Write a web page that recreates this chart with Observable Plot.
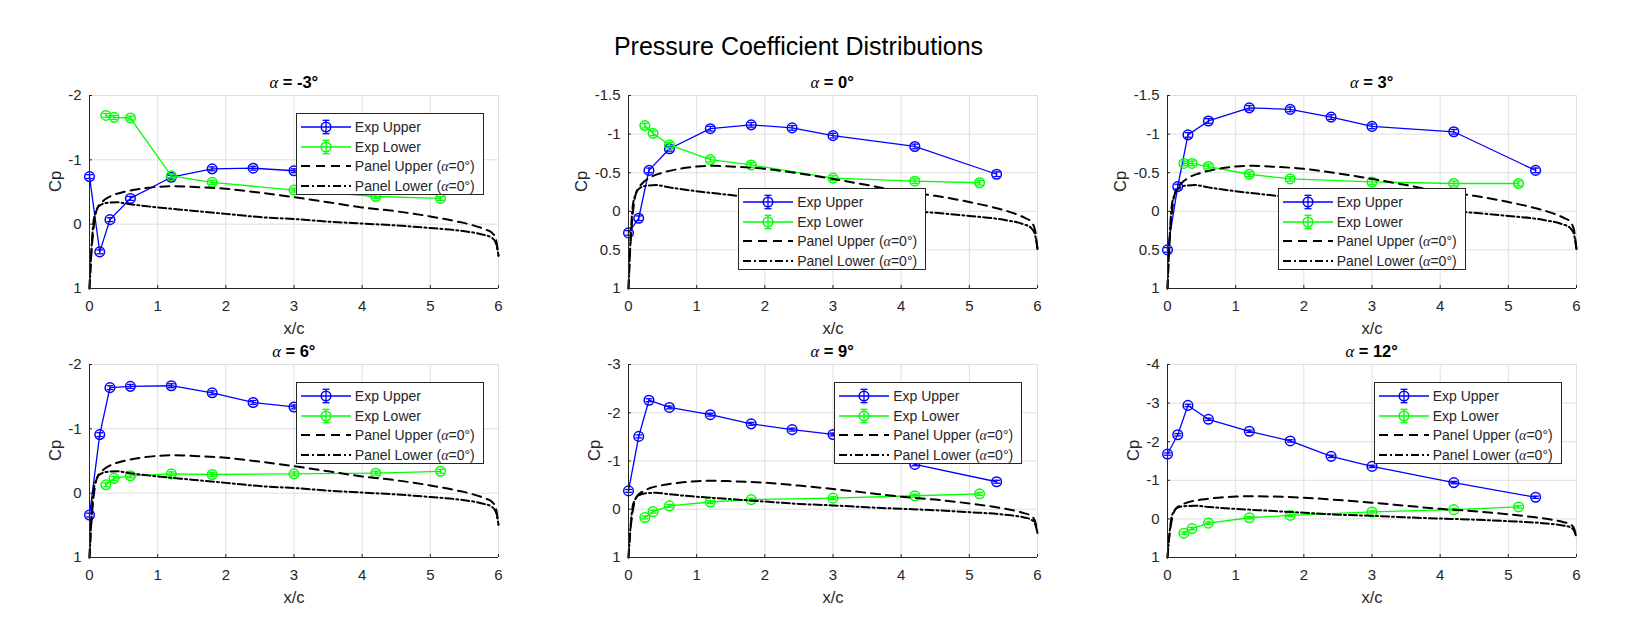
<!DOCTYPE html>
<html>
<head>
<meta charset="utf-8">
<script src="https://cdn.jsdelivr.net/npm/d3@7"></script>
<script src="https://cdn.jsdelivr.net/npm/@observablehq/plot@0.6"></script>
<style>
  body { margin: 0; background: #fff; }
  #fig { position: relative; width: 1635px; height: 634px; overflow: hidden;
         font-family: "Liberation Sans", Arial, Helvetica, sans-serif; color: #262626; background: #fff; }
  .abs { position: absolute; }
  .gt { font-family: "Liberation Serif", "Times New Roman", serif; font-style: italic; font-weight: normal; }
  .maintitle { font-size: 25px; line-height: 30px; color: #000; text-align: center; white-space: nowrap; }
  .subtitle { font-size: 16.5px; line-height: 18px; font-weight: bold; color: #000; text-align: center; white-space: nowrap; }
  .legend { position: absolute; background: #fff; border: 1px solid #262626; box-sizing: border-box; }
  .legend .row { position: absolute; left: 0; height: 20px; line-height: 20px; font-size: 14px; white-space: nowrap; color: #262626; }
  .legend svg { position: absolute; left: 0; top: 0; }
  .legend .lab { position: absolute; left: 58px; top: 0; }
</style>
</head>
<body>
<div id="fig"></div>
<script>
// ---------------- data ----------------
const figTitle = "Pressure Coefficient Distributions";
const alphas = [-3, 0, 3, 6, 9, 12];

// experimental tap locations
const xUpper = [0, 0.15, 0.3, 0.6, 1.2, 1.8, 2.4, 3.0, 4.2, 5.4];
const xLower = [0.24, 0.36, 0.6, 1.2, 1.8, 3.0, 4.2, 5.15];

// experimental Cp, upper surface
const cpUpperM3 = [-0.74, 0.43, -0.07, -0.40, -0.73, -0.86, -0.87, -0.83, -0.76, -0.60];
const cpUpper0  = [0.28, 0.09, -0.53, -0.81, -1.07, -1.12, -1.08, -0.98, -0.84, -0.48];
const cpUpper3  = [0.50, -0.32, -0.99, -1.17, -1.34, -1.32, -1.22, -1.10, -1.03, -0.53];
const cpUpper6  = [0.34, -0.91, -1.64, -1.66, -1.67, -1.56, -1.41, -1.34, -1.15, -0.75];
const cpUpper9  = [-0.38, -1.51, -2.26, -2.11, -1.96, -1.77, -1.65, -1.55, -0.93, -0.57];
const cpUpper12 = [-1.68, -2.18, -2.94, -2.58, -2.27, -2.02, -1.62, -1.36, -0.94, -0.56];

// experimental Cp, lower surface
const cpLowerM3 = [-1.69, -1.66, -1.65, -0.75, -0.65, -0.53, -0.43, -0.40];
const cpLower0  = [-1.11, -1.01, -0.86, -0.67, -0.60, -0.43, -0.39, -0.37];
const cpLower3  = [-0.62, -0.62, -0.58, -0.48, -0.42, -0.38, -0.36, -0.36];
const cpLower6  = [-0.13, -0.23, -0.27, -0.30, -0.29, -0.30, -0.31, -0.34];
const cpLower9  = [0.17, 0.05, -0.07, -0.15, -0.20, -0.23, -0.28, -0.32];
const cpLower12 = [0.37, 0.25, 0.11, -0.03, -0.09, -0.18, -0.24, -0.31];

// measurement uncertainty (error bar half-height)
const cpErr = 0.03;

// panel-method solution at alpha = 0 deg
const panelUpperX  = [0, 0.02, 0.05, 0.08, 0.12, 0.2, 0.3, 0.5, 0.75, 1.0, 1.25, 1.5, 2.0, 2.5, 3.0, 3.5, 4.0, 4.5, 5.0, 5.4, 5.6, 5.8, 5.9, 5.96, 6.0];
const panelUpperCp = [1.0, 0.57, 0.16, -0.10, -0.26, -0.36, -0.43, -0.50, -0.55, -0.58, -0.59, -0.58, -0.55, -0.49, -0.42, -0.34, -0.26, -0.20, -0.12, -0.04, 0.01, 0.08, 0.13, 0.23, 0.49];
const panelLowerX  = [0, 0.03, 0.06, 0.1, 0.15, 0.25, 0.4, 0.6, 1.0, 1.5, 2.0, 2.5, 3.0, 3.5, 4.0, 4.5, 5.0, 5.5, 5.8, 5.9, 5.96, 6.0];
const panelLowerCp = [1.0, 0.36, -0.05, -0.21, -0.29, -0.33, -0.34, -0.31, -0.26, -0.21, -0.16, -0.11, -0.08, -0.04, -0.01, 0.02, 0.06, 0.11, 0.17, 0.21, 0.29, 0.49];

// axes
const xTicks = [0, 1, 2, 3, 4, 5, 6];
const yTopValues = [-2, -1.5, -1.5, -2, -3, -4];
const yTicksA = [-2, -1, 0, 1];
const yTicksB = [-1.5, -1, -0.5, 0, 0.5, 1];
const yTicksC = [-3, -2, -1, 0, 1];
const yTicksD = [-4, -3, -2, -1, 0, 1];
const yTickSets = [yTicksA, yTicksB, yTicksB, yTicksA, yTicksC, yTicksD];

// legend labels
const legendLabels = ["Exp Upper", "Exp Lower", "Panel Upper (α=0°)", "Panel Lower (α=0°)"];

// ---------------- layout / style ----------------
const colX = [89.3, 627.7, 1167.2];
const rowY = [95, 364];
const frameW = 409, frameH = 193;
const mL = 75, mR = 20, mT = 30, mB = 55;
const blue = "#0000ff", green = "#00ff00";
const dashUpper = "9,6", dashLower = "8,3,2,3";
// legend placement: "ne" = inside top-right, otherwise offset from frame top-left
const legendPlace = ["ne", {dx: 110.5, dy: 93}, {dx: 110.5, dy: 93}, "ne", "ne", "ne"];
const legendW = 188, legendH = 82;

const cpUpperSets = [cpUpperM3, cpUpper0, cpUpper3, cpUpper6, cpUpper9, cpUpper12];
const cpLowerSets = [cpLowerM3, cpLower0, cpLower3, cpLower6, cpLower9, cpLower12];

const panelUpper = panelUpperX.map((x, i) => ({x, cp: panelUpperCp[i]}));
const panelLower = panelLowerX.map((x, i) => ({x, cp: panelLowerCp[i]}));

const capSymbol = {
  draw(ctx, size) { const r = Math.sqrt(size / Math.PI); ctx.moveTo(-r, 0); ctx.lineTo(r, 0); }
};

const fig = document.getElementById("fig");

// main title
const mt = document.createElement("div");
mt.className = "abs maintitle";
mt.style.left = "598.5px"; mt.style.width = "400px"; mt.style.top = "31px";
mt.textContent = figTitle;
fig.appendChild(mt);

function withAlpha(s) {
  return s.replace("α", '<span class="gt">α</span>');
}

function errorMarks(data, color) {
  return [
    Plot.line(data, {x: "x", y: "cp", stroke: color, strokeWidth: 1.3}),
    Plot.ruleX(data, {x: "x", y1: d => d.cp - cpErr, y2: d => d.cp + cpErr, stroke: color, strokeWidth: 1.3}),
    Plot.dot(data, {x: "x", y: d => d.cp - cpErr, symbol: capSymbol, r: 3.4, stroke: color, fill: "none", strokeWidth: 1.3}),
    Plot.dot(data, {x: "x", y: d => d.cp + cpErr, symbol: capSymbol, r: 3.4, stroke: color, fill: "none", strokeWidth: 1.3}),
    Plot.dot(data, {x: "x", y: "cp", r: 4.8, stroke: color, fill: "none", strokeWidth: 1.5})
  ];
}

alphas.forEach((alpha, i) => {
  const col = i % 3, row = Math.floor(i / 3);
  const x0 = colX[col], y0 = rowY[row];
  const yTicks = yTickSets[i];
  const yTop = yTopValues[i];
  const up = xUpper.map((x, j) => ({x, cp: cpUpperSets[i][j]}));
  const lo = xLower.map((x, j) => ({x, cp: cpLowerSets[i][j]}));
  const cpOffset = yTicks.some(t => !Number.isInteger(t)) ? 47 : 34;

  const svg = Plot.plot({
    width: mL + frameW + mR,
    height: mT + frameH + mB,
    marginLeft: mL, marginRight: mR, marginTop: mT, marginBottom: mB,
    style: {fontFamily: '"Liberation Sans", Arial, Helvetica, sans-serif', fontSize: "15px", color: "#262626", background: "transparent", overflow: "visible"},
    x: {domain: [0, 6]},
    y: {domain: [1, yTop]},
    marks: [
      Plot.gridX(xTicks, {stroke: "#dfdfdf", strokeOpacity: 1}),
      Plot.gridY(yTicks, {stroke: "#dfdfdf", strokeOpacity: 1}),
      ...errorMarks(up, blue),
      ...errorMarks(lo, green),
      Plot.line(panelUpper, {x: "x", y: "cp", stroke: "#000", strokeWidth: 2, strokeDasharray: dashUpper, curve: "monotone-x"}),
      Plot.line(panelLower, {x: "x", y: "cp", stroke: "#000", strokeWidth: 2, strokeDasharray: dashLower, curve: "monotone-x"}),
      Plot.ruleX([0], {stroke: "#262626", strokeWidth: 1}),
      Plot.ruleY([1], {stroke: "#262626", strokeWidth: 1}),
      Plot.axisX(xTicks, {tickFormat: d => String(d), tickSize: -3, tickPadding: 15, label: null, fontSize: 15}),
      Plot.axisY(yTicks, {tickFormat: d => String(d), tickSize: -3, tickPadding: 11, label: null, fontSize: 15}),
      Plot.text(["x/c"], {frameAnchor: "bottom", dy: 40, fontSize: 16.5, fill: "#262626", lineAnchor: "middle"}),
      Plot.text(["Cp"], {frameAnchor: "left", dx: -cpOffset, rotate: -90, fontSize: 16.5, fill: "#262626", lineAnchor: "middle"})
    ]
  });
  const wrap = document.createElement("div");
  wrap.className = "abs";
  wrap.style.left = (x0 - mL) + "px";
  wrap.style.top = (y0 - mT) + "px";
  wrap.appendChild(svg);
  fig.appendChild(wrap);

  // subplot title
  const st = document.createElement("div");
  st.className = "abs subtitle";
  st.style.left = x0 + "px"; st.style.width = frameW + "px";
  st.style.top = (y0 - 22) + "px";
  st.innerHTML = withAlpha(`α = ${alpha}°`);
  fig.appendChild(st);

  // legend
  const place = legendPlace[i];
  const lx = place === "ne" ? x0 + frameW - 14.5 - legendW : x0 + place.dx;
  const ly = place === "ne" ? y0 + 18 : y0 + place.dy;
  const lg = document.createElement("div");
  lg.className = "legend";
  lg.style.left = lx + "px"; lg.style.top = ly + "px";
  lg.style.width = legendW + "px"; lg.style.height = legendH + "px";
  legendLabels.forEach((lab, k) => {
    const r = document.createElement("div");
    r.className = "row";
    r.style.top = (13 + k * 19.7 - 10) + "px";
    r.style.width = (legendW - 2) + "px";
    const s = d3.create("svg").attr("width", 56).attr("height", 20);
    if (k < 2) {
      const c = k === 0 ? blue : green;
      s.append("line").attr("x1", 4).attr("x2", 54).attr("y1", 10).attr("y2", 10).attr("stroke", c).attr("stroke-width", 1.3);
      s.append("line").attr("x1", 29).attr("x2", 29).attr("y1", 3.3).attr("y2", 16.7).attr("stroke", c).attr("stroke-width", 1.3);
      s.append("line").attr("x1", 25.5).attr("x2", 32.5).attr("y1", 3.3).attr("y2", 3.3).attr("stroke", c).attr("stroke-width", 1.3);
      s.append("line").attr("x1", 25.5).attr("x2", 32.5).attr("y1", 16.7).attr("y2", 16.7).attr("stroke", c).attr("stroke-width", 1.3);
      s.append("circle").attr("cx", 29).attr("cy", 10).attr("r", 4.8).attr("fill", "none").attr("stroke", c).attr("stroke-width", 1.5);
    } else {
      s.append("line").attr("x1", 4).attr("x2", 54).attr("y1", 10).attr("y2", 10).attr("stroke", "#000").attr("stroke-width", 2)
        .attr("stroke-dasharray", k === 2 ? dashUpper : dashLower);
    }
    r.appendChild(s.node());
    const t = document.createElement("span");
    t.className = "lab";
    t.innerHTML = withAlpha(lab);
    r.appendChild(t);
    lg.appendChild(r);
  });
  fig.appendChild(lg);
});
</script>
</body>
</html>
